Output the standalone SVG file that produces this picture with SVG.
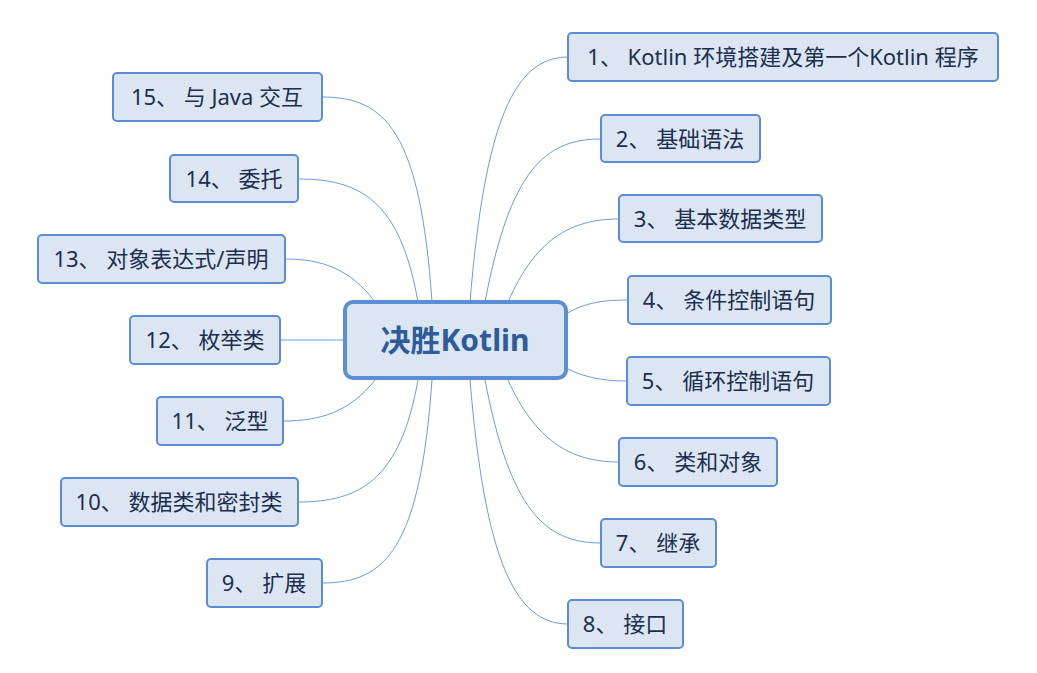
<svg xmlns="http://www.w3.org/2000/svg" width="1037" height="673" viewBox="0 0 1037 673">
<style>
.n rect{fill:#dce6f2;stroke:#5b8dd4;stroke-width:2}
.n text{font-family:"Noto Sans","Noto Sans CJK SC",sans-serif;font-size:22px;fill:#1b2f4f;text-anchor:middle}
.c path{fill:none;stroke:#6d9be0;stroke-width:1}
#center rect{fill:#dce6f2;stroke:#5a8fd4;stroke-width:4}
#center text{font-family:"Noto Sans","Noto Sans CJK SC",sans-serif;font-size:30px;font-weight:bold;fill:#2e5c99;text-anchor:middle}
</style>
<rect width="1037" height="673" fill="#ffffff"/>
<g class="c" id="connectors">
<path d="M470,302 C485,120 515,57 568,57"/>
<path d="M485,302 C510,170 545,139 601,139"/>
<path d="M508,302 C535,240 570,219 619,219"/>
<path d="M566,314 C585,302 605,300 628,300"/>
<path d="M566,368 C585,378 605,381 627,381"/>
<path d="M508,380 C535,440 570,462 619,462"/>
<path d="M485,380 C510,510 545,543 601,543"/>
<path d="M470,380 C485,560 515,624 568,624"/>
<path d="M432,302 C420,130 385,97 322,97"/>
<path d="M418,302 C400,200 360,179 298,179"/>
<path d="M375,302 C350,268 320,259 285,259"/>
<path d="M280,340 L345,340"/>
<path d="M375,380 C350,412 320,421 283,421"/>
<path d="M418,380 C400,480 360,502 298,502"/>
<path d="M432,380 C420,550 385,583 322,583"/>
</g>
<g id="center"><rect x="345" y="302" width="221" height="76" rx="8"/><text x="455" y="351">决胜Kotlin</text></g>
<g class="n" id="n1"><rect x="568" y="33" width="430" height="48" rx="4"/><text x="783" y="65">1、 Kotlin 环境搭建及第一个Kotlin 程序</text></g>
<g class="n" id="n2"><rect x="601" y="115" width="159" height="47" rx="4"/><text x="680" y="147">2、 基础语法</text></g>
<g class="n" id="n3"><rect x="619" y="195" width="203" height="47" rx="4"/><text x="720" y="227">3、 基本数据类型</text></g>
<g class="n" id="n4"><rect x="628" y="276" width="203" height="48" rx="4"/><text x="729" y="308">4、 条件控制语句</text></g>
<g class="n" id="n5"><rect x="627" y="357" width="203" height="48" rx="4"/><text x="728" y="389">5、 循环控制语句</text></g>
<g class="n" id="n6"><rect x="619" y="438" width="158" height="48" rx="4"/><text x="698" y="470">6、 类和对象</text></g>
<g class="n" id="n7"><rect x="601" y="519" width="115" height="48" rx="4"/><text x="658" y="551">7、 继承</text></g>
<g class="n" id="n8"><rect x="568" y="600" width="115" height="48" rx="4"/><text x="625" y="632">8、 接口</text></g>
<g class="n" id="n15"><rect x="113" y="73" width="209" height="48" rx="4"/><text x="217" y="105">15、 与 Java 交互</text></g>
<g class="n" id="n14"><rect x="170" y="155" width="128" height="47" rx="4"/><text x="234" y="187">14、 委托</text></g>
<g class="n" id="n13"><rect x="38" y="235" width="247" height="48" rx="4"/><text x="161" y="267">13、 对象表达式/声明</text></g>
<g class="n" id="n12"><rect x="130" y="316" width="150" height="48" rx="4"/><text x="205" y="348">12、 枚举类</text></g>
<g class="n" id="n11"><rect x="157" y="397" width="126" height="48" rx="4"/><text x="220" y="429">11、 泛型</text></g>
<g class="n" id="n10"><rect x="61" y="478" width="237" height="48" rx="4"/><text x="179" y="510">10、 数据类和密封类</text></g>
<g class="n" id="n9"><rect x="207" y="559" width="115" height="48" rx="4"/><text x="264" y="591">9、 扩展</text></g>
</svg>
